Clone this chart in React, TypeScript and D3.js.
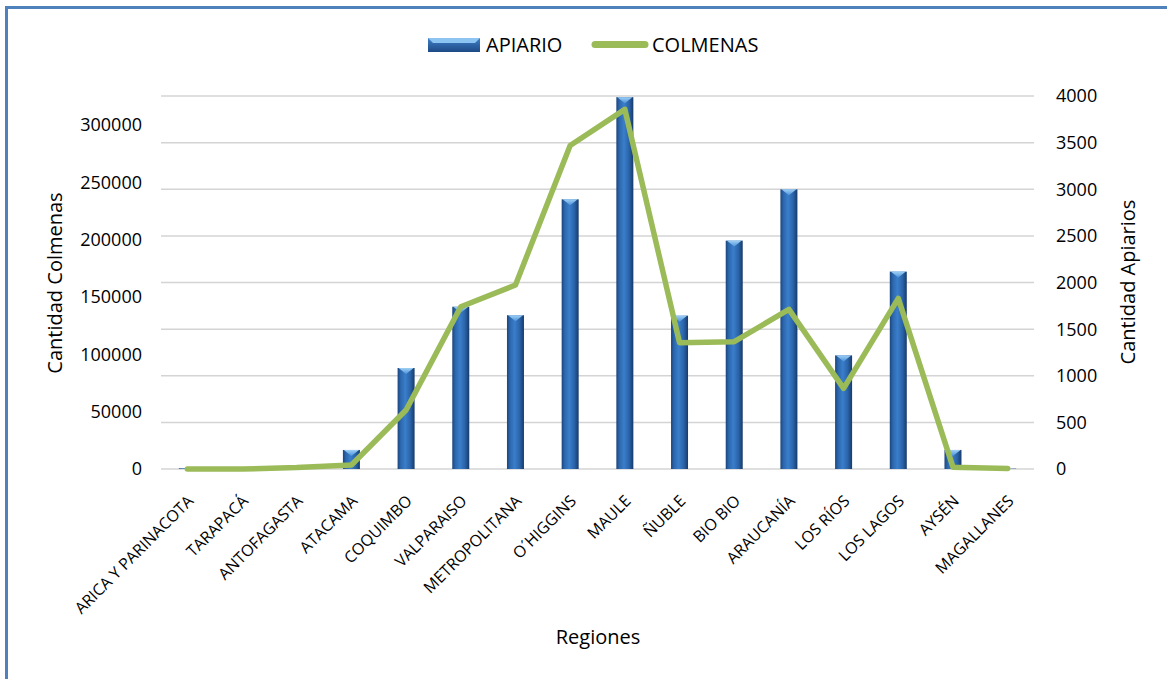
import React from 'react';
import * as d3 from 'd3';

// Regiones de Chile, norte a sur
const regions = [
    'ARICA Y PARINACOTA',
    'TARAPACÁ',
    'ANTOFAGASTA',
    'ATACAMA',
    'COQUIMBO',
    'VALPARAISO',
    'METROPOLITANA',
    'O´HIGGINS',
    'MAULE',
    'ÑUBLE',
    'BIO BIO',
    'ARAUCANÍA',
    'LOS RÍOS',
    'LOS LAGOS',
    'AYSÉN',
    'MAGALLANES',
];

// bars, read against the left axis
const barValues = [
    600, 200, 1500, 16600, 88000, 141400, 134000, 235000, 324000, 133600,
    199000, 243700, 99000, 172000, 16600, 300,
];

// line, read against the right axis
const lineValues = [
    0, 0, 15, 43, 633, 1740, 1973, 3470, 3857, 1355, 1365, 1712, 865, 1830,
    20, 5,
];

const leftTicks = [0, 50000, 100000, 150000, 200000, 250000, 300000];
const rightTicks = [0, 500, 1000, 1500, 2000, 2500, 3000, 3500, 4000];

const W = 1167;
const H = 679;
const FONT = '"Open Sans", sans-serif';

const App: React.FC = () => {
    const x = d3.scaleBand<string>().domain(regions).range([160, 1035]);
    const yLeft = d3.scaleLinear().domain([0, 325000]).range([469, 96]);
    const yRight = d3.scaleLinear().domain([0, 4000]).range([469, 96]);

    const barW = 17;
    const cx = (r: string) => (x(r) as number) + x.bandwidth() / 2;

    const line = d3
        .line<number>()
        .x((_, i) => cx(regions[i]))
        .y((d) => yRight(d));

    return (
        <svg
            width={W}
            height={H}
            style={{ position: 'absolute', left: 0, top: 0, background: '#fff' }}
        >
            <defs>
                <linearGradient id="barGrad" x1="0" x2="1" y1="0" y2="0">
                    <stop offset="0" stopColor="#1b457d" />
                    <stop offset="0.18" stopColor="#2c67ad" />
                    <stop offset="0.45" stopColor="#3a7ecb" />
                    <stop offset="0.75" stopColor="#2a63a8" />
                    <stop offset="1" stopColor="#173a6b" />
                </linearGradient>
                <linearGradient id="capGrad" x1="0" x2="0" y1="0" y2="1">
                    <stop offset="0" stopColor="#9fd0f5" />
                    <stop offset="1" stopColor="#4d93da" />
                </linearGradient>
                <linearGradient id="legGrad" x1="0" x2="0" y1="0" y2="1">
                    <stop offset="0" stopColor="#3f80c8" />
                    <stop offset="1" stopColor="#1d4a85" />
                </linearGradient>
            </defs>

            {/* frame */}
            <line x1={6.5} x2={6.5} y1={6} y2={H} stroke="#4f81bd" strokeWidth={3} />
            <line x1={5} x2={W} y1={7.5} y2={7.5} stroke="#4f81bd" strokeWidth={3} />

            {/* gridlines */}
            {rightTicks.map((t) => (
                <line
                    key={t}
                    x1={161}
                    x2={1034}
                    y1={yRight(t)}
                    y2={yRight(t)}
                    stroke="#d4d4d4"
                    strokeWidth={1.5}
                />
            ))}

            {/* left ticks */}
            {leftTicks.map((t) => (
                <text
                    key={t}
                    x={142}
                    y={yLeft(t)}
                    dy="0.36em"
                    textAnchor="end"
                    fontFamily={FONT}
                    fontSize={18}
                    fill="#000"
                >
                    {t}
                </text>
            ))}

            {/* right ticks */}
            {rightTicks.map((t) => (
                <text
                    key={t}
                    x={1056}
                    y={yRight(t)}
                    dy="0.36em"
                    textAnchor="start"
                    fontFamily={FONT}
                    fontSize={18}
                    fill="#000"
                >
                    {t}
                </text>
            ))}

            {/* bars */}
            {regions.map((r, i) => {
                const top = yLeft(barValues[i]);
                const h = yLeft(0) - top;
                const bx = cx(r) - barW / 2;
                const capH = Math.min(h, 6);
                return (
                    <g key={r}>
                        <rect x={bx} y={top} width={barW} height={h} fill="url(#barGrad)" />
                        {h > 1 && (
                            <polygon
                                points={`${bx + 1},${top} ${bx + barW - 1},${top} ${bx + barW / 2},${top + capH}`}
                                fill="url(#capGrad)"
                            />
                        )}
                    </g>
                );
            })}

            {/* line */}
            <path
                d={line(lineValues) || ''}
                fill="none"
                stroke="#9bbb59"
                strokeWidth={5.5}
                strokeLinejoin="round"
                strokeLinecap="round"
            />

            {/* category labels */}
            {regions.map((r) => (
                <text
                    key={r}
                    transform={`translate(${cx(r) + 7},${502}) rotate(-45)`}
                    textAnchor="end"
                    fontFamily={FONT}
                    fontSize={16}
                    fill="#000"
                >
                    {r}
                </text>
            ))}

            {/* axis titles */}
            <text
                transform={`translate(62,283) rotate(-90)`}
                textAnchor="middle"
                fontFamily={FONT}
                fontSize={20}
                fill="#000"
            >
                Cantidad Colmenas
            </text>
            <text
                transform={`translate(1135,282) rotate(-90)`}
                textAnchor="middle"
                fontFamily={FONT}
                fontSize={20}
                fill="#000"
            >
                Cantidad Apiarios
            </text>
            <text
                x={598}
                y={644}
                textAnchor="middle"
                fontFamily={FONT}
                fontSize={20}
                fill="#000"
            >
                Regiones
            </text>

            {/* legend */}
            <g>
                <rect x={428} y={38} width={52} height={14} fill="url(#legGrad)" />
                <polygon points="428,38 480,38 475,43 433,43" fill="#8cc4f2" />
                <text x={486} y={52} fontFamily={FONT} fontSize={20} fill="#000">
                    APIARIO
                </text>
                <line
                    x1={595}
                    x2={645}
                    y1={44.5}
                    y2={44.5}
                    stroke="#9bbb59"
                    strokeWidth={7}
                    strokeLinecap="round"
                />
                <text x={652} y={52} fontFamily={FONT} fontSize={20} fill="#000">
                    COLMENAS
                </text>
            </g>
        </svg>
    );
};

export default App;
